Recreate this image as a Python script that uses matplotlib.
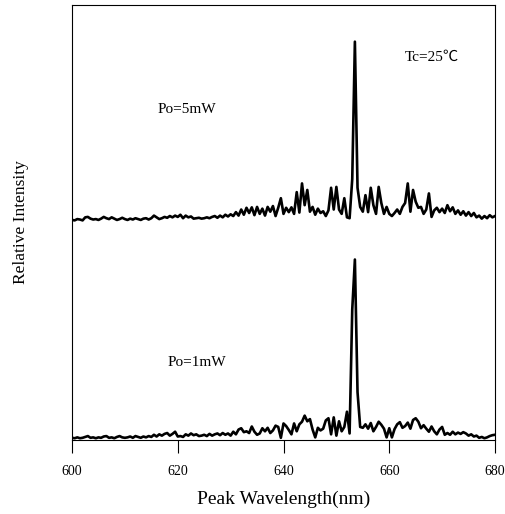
import numpy as np
import matplotlib
matplotlib.use("Agg")
import matplotlib.pyplot as plt

plt.rcParams['font.family'] = ['Liberation Serif', 'Noto Sans CJK SC', 'DejaVu Sans']

# wavelength grid, 0.5 nm steps
wavelength = np.arange(600.0, 680.01, 0.5)

# Po=5mW spectrum (relative, offset upward)
po5 = [
    50.6, 50.5, 50.8, 50.7, 50.5, 51.2, 51.3, 50.9, 50.7, 50.8,
    50.6, 50.9, 51.3, 51.0, 50.8, 51.2, 50.9, 50.6, 50.8, 51.1,
    50.8, 50.6, 50.9, 50.7, 51.0, 50.8, 50.6, 50.9, 51.0, 50.7,
    51.0, 51.6, 51.2, 50.8, 51.0, 51.3, 51.1, 51.5, 51.2, 51.6,
    51.3, 51.8, 51.0, 51.6, 51.2, 51.4, 50.9, 51.0, 51.1, 50.9,
    51.0, 51.2, 51.0, 51.3, 51.5, 51.1, 51.6, 51.2, 51.8, 51.4,
    51.9, 51.5, 52.4, 51.6, 53.0, 51.8, 53.4, 52.2, 53.5, 51.7,
    53.6, 52.0, 53.2, 51.6, 53.6, 52.5, 53.8, 51.5, 53.4, 55.6,
    52.0, 53.4, 52.4, 53.5, 52.0, 57.0, 52.3, 59.0, 54.0, 57.5,
    52.5, 53.6, 51.8, 53.2, 52.2, 52.6, 51.5, 52.8, 58.0, 53.0,
    58.2, 53.0, 52.0, 55.6, 51.2, 51.0, 60.0, 91.6, 58.0, 53.6,
    52.5, 56.3, 52.4, 58.0, 54.0, 52.0, 58.2, 54.5, 52.0, 53.6,
    52.0, 51.5, 52.2, 53.0, 52.0, 53.6, 54.5, 59.0, 52.5, 57.5,
    54.8, 53.4, 53.6, 52.0, 53.0, 56.7, 51.3, 52.8, 53.4, 52.4,
    53.2, 52.2, 54.0, 52.6, 53.5, 52.0, 52.8, 51.8, 52.6, 51.6,
    52.4, 51.5, 52.2, 51.2, 51.6, 50.9, 51.5, 51.0, 51.7, 51.2,
    51.5,
]

# Po=1mW spectrum
po1 = [
    0.5, 0.4, 0.6, 0.4, 0.5, 0.7, 0.9, 0.5, 0.6, 0.4,
    0.6, 0.5, 0.8, 0.9, 0.5, 0.6, 0.4, 0.7, 0.9, 0.6,
    0.5, 0.6, 0.8, 0.5, 0.9, 0.7, 0.5, 0.8, 0.6, 0.9,
    0.7, 1.2, 0.8, 1.3, 1.0, 1.4, 1.6, 1.0, 1.4, 1.9,
    0.8, 0.9, 0.7, 1.3, 1.0, 1.5, 1.1, 1.3, 0.9, 1.0,
    1.2, 0.9, 1.4, 1.0, 1.3, 1.5, 1.1, 1.6, 1.2, 1.5,
    1.0, 1.9, 1.3, 2.4, 2.7, 1.8, 2.0, 1.6, 3.1, 1.9,
    1.2, 1.5, 2.7, 2.0, 2.8, 1.6, 2.2, 3.3, 3.0, 0.5,
    3.8, 3.2, 2.3, 1.3, 3.8, 2.0, 3.6, 4.2, 5.6, 4.3,
    4.8, 2.4, 0.6, 2.8, 2.2, 2.6, 4.5, 5.0, 1.3, 5.2,
    1.0, 4.3, 2.0, 3.0, 6.5, 1.5, 30.0, 41.5, 11.0, 3.0,
    2.8, 3.6, 2.6, 3.9, 2.0, 3.0, 4.2, 3.5, 2.6, 0.6,
    2.7, 0.6, 2.5, 3.6, 4.1, 2.8, 3.2, 4.0, 2.6, 4.6,
    5.0, 4.2, 2.7, 3.4, 2.6, 1.9, 3.1, 2.0, 1.3, 2.4,
    3.0, 1.2, 1.6, 1.2, 1.9, 1.3, 1.7, 1.4, 1.8, 1.5,
    1.0, 1.3, 0.8, 1.0, 0.5, 0.7, 0.4, 0.6, 0.9, 1.1,
    1.2,
]

xticks = [600, 620, 640, 660, 680]

fig = plt.figure(figsize=(5.05, 5.14), dpi=100)
ax = fig.add_axes([0.1426, 0.144, 0.8376, 0.846])

ax.plot(wavelength, po5, color='k', lw=1.9)
ax.plot(wavelength, po1, color='k', lw=1.9)

ax.set_xlim(600, 680)
ax.set_ylim(0, 100)
ax.set_xticks(xticks)
ax.set_yticks([])
ax.tick_params(axis='x', direction='out', length=9, width=0.8, pad=9, labelsize=10)
for s in ax.spines.values():
    s.set_linewidth(0.8)

ax.set_xlabel('Peak Wavelength(nm)', fontsize=14, labelpad=9)
ax.set_ylabel('Relative Intensity', fontsize=12.5, labelpad=31)

ax.text(662.9, 88, 'Tc=25\u2103', fontsize=11, va='center', ha='left')
ax.text(616.1, 75.9, 'Po=5mW', fontsize=11, va='center', ha='left')
ax.text(618.1, 17.9, 'Po=1mW', fontsize=11, va='center', ha='left')

fig.savefig('out.png', dpi=100)
